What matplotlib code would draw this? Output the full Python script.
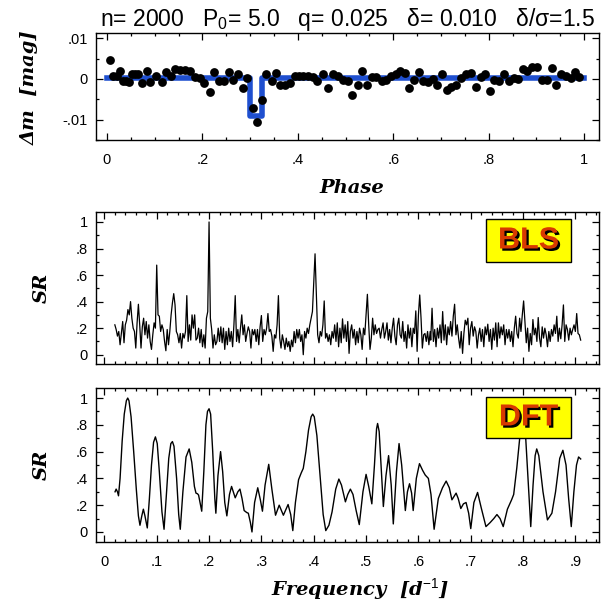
import numpy as np
import matplotlib
matplotlib.use("Agg")
import matplotlib.pyplot as plt
import matplotlib.patheffects as pe
from matplotlib.ticker import MultipleLocator, FuncFormatter
from matplotlib.patches import Rectangle

# ---- phased light curve (top panel) ----
phase = [0.006, 0.012, 0.02, 0.027, 0.033, 0.04, 0.046, 0.053, 0.059, 0.066,
         0.074, 0.083, 0.091, 0.103, 0.115, 0.124, 0.134, 0.143, 0.154, 0.164,
         0.174, 0.184, 0.194, 0.204, 0.215, 0.224, 0.234, 0.245, 0.255, 0.264,
         0.274, 0.284, 0.294, 0.306, 0.315, 0.324, 0.334, 0.345, 0.354, 0.363,
         0.372, 0.383, 0.393, 0.402, 0.411, 0.421, 0.432, 0.441, 0.453, 0.464,
         0.474, 0.484, 0.495, 0.504, 0.514, 0.525, 0.534, 0.544, 0.555, 0.564,
         0.576, 0.585, 0.595, 0.605, 0.615, 0.624, 0.632, 0.644, 0.654, 0.663,
         0.672, 0.683, 0.692, 0.703, 0.712, 0.721, 0.731, 0.741, 0.752, 0.762,
         0.773, 0.783, 0.793, 0.803, 0.812, 0.822, 0.832, 0.842, 0.853, 0.862,
         0.872, 0.881, 0.891, 0.901, 0.911, 0.922, 0.932, 0.941, 0.951, 0.961,
         0.972, 0.981, 0.990]
dmag = [0.0047, 0.0007, 0.0008, 0.0020, -0.0004, -0.0006, -0.0008, 0.0013, 0.0013, 0.0013,
        -0.0010, 0.0019, -0.0007, 0.0007, -0.0008, 0.0016, 0.0008, 0.0025, 0.0023, 0.0023,
        0.0020, 0.0004, 0.0002, -0.0011, -0.0033, 0.0016, -0.0004, -0.0004, 0.0018, -0.0002,
        0.0013, -0.0022, 0.0002, -0.0071, -0.0106, -0.0051, 0.0013, -0.0004, 0.0015, -0.0014,
        -0.0014, -0.0010, 0.0007, 0.0007, 0.0008, 0.0008, 0.0005, -0.0004, 0.0013, -0.0021,
        0.0011, 0.0008, -0.0002, -0.0004, -0.0039, -0.0014, 0.0019, -0.0016, 0.0004, 0.0004,
        -0.0006, -0.0002, 0.0008, 0.0013, 0.0019, 0.0015, -0.0022, -0.0002, 0.0017, -0.0006,
        -0.0008, 0.0000, -0.0014, 0.0011, -0.0026, -0.0020, -0.0014, 0.0002, 0.0011, 0.0015,
        -0.0020, 0.0004, 0.0013, -0.0029, -0.0002, -0.0004, 0.0013, -0.0006, 0.0002, 0.0000,
        0.0025, 0.0019, 0.0030, 0.0030, -0.0002, -0.0002, 0.0027, -0.0016, 0.0013, 0.0008,
        0.0002, 0.0016, 0.0005]
# box-shaped transit model
model_phase = [0.0, 0.2996, 0.2996, 0.3247, 0.3247, 1.0]
model_dmag = [0.0002, 0.0002, -0.009, -0.009, 0.0002, 0.0002]

# ---- BLS spectrum, three stretches ----
bls_a = [0.225, 0.19, 0.14, 0.175, 0.075, 0.16, 0.25, 0.09, 0.225, 0.26,
         0.34, 0.30, 0.40, 0.275, 0.20, 0.175, 0.05, 0.24, 0.38, 0.225,
         0.05, 0.21, 0.275, 0.15, 0.25, 0.125, 0.225, 0.10, 0.04, 0.15,
         0.24, 0.20, 0.675, 0.30, 0.29, 0.175, 0.225, 0.19, 0.10, 0.03,
         0.19, 0.075, 0.175, 0.30, 0.39, 0.46, 0.375, 0.175, 0.15, 0.09,
         0.16, 0.05, 0.16, 0.125, 0.175, 0.445, 0.10, 0.225, 0.11, 0.30,
         0.20, 0.30, 0.11, 0.125, 0.20, 0.09, 0.19, 0.06, 0.15, 0.05,
         0.275, 0.325, 1.0, 0.275, 0.19, 0.05, 0.15, 0.075, 0.10, 0.20,
         0.10, 0.21, 0.09, 0.20, 0.04, 0.175, 0.075, 0.20, 0.10, 0.175,
         0.06, 0.225, 0.445, 0.10, 0.19, 0.09, 0.20, 0.30, 0.15, 0.225,
         0.10, 0.16, 0.21, 0.175, 0.05, 0.19, 0.15, 0.19, 0.10, 0.19,
         0.075, 0.21, 0.295, 0.10, 0.19, 0.15, 0.20, 0.31, 0.175]
bls_b = [0.19, 0.14, 0.025, 0.15, 0.125, 0.225, 0.445, 0.125, 0.05, 0.15,
         0.10, 0.04, 0.125, 0.06, 0.10, 0.025, 0.11, 0.06, 0.175, 0.09,
         0.19, 0.125, 0.19, 0.10, 0.15, 0.0, 0.175, 0.125, 0.20, 0.16,
         0.225, 0.275, 0.325, 0.55, 0.76, 0.45, 0.15, 0.09, 0.175, 0.14,
         0.225, 0.405, 0.125, 0.16, 0.10, 0.15, 0.075, 0.175, 0.125, 0.225,
         0.10, 0.24, 0.06, 0.20, 0.09, 0.27, 0.125, 0.225, 0.10, 0.25,
         0.01, 0.175, 0.225, 0.125, 0.19, 0.075, 0.175, 0.09, 0.20, 0.15,
         0.04, 0.20, 0.15, 0.30, 0.455, 0.225, 0.04, 0.125, 0.275, 0.15,
         0.225, 0.16, 0.19, 0.20, 0.125, 0.19, 0.24, 0.125, 0.175, 0.24,
         0.11, 0.19, 0.09, 0.20, 0.275, 0.14, 0.075, 0.225, 0.275, 0.15,
         0.125, 0.25, 0.10, 0.175, 0.05, 0.225, 0.125, 0.20, 0.06, 0.20,
         0.16, 0.33, 0.025, 0.30, 0.45, 0.275, 0.05, 0.15, 0.16, 0.10,
         0.175, 0.075, 0.175]
bls_c = [0.11, 0.35, 0.10, 0.19, 0.06, 0.20, 0.125, 0.225, 0.09, 0.325,
         0.11, 0.225, 0.075, 0.21, 0.15, 0.25, 0.14, 0.29, 0.38, 0.15,
         0.225, 0.125, 0.05, 0.175, 0.01, 0.16, 0.26, 0.225, 0.275, 0.075,
         0.20, 0.25, 0.14, 0.21, 0.175, 0.05, 0.15, 0.20, 0.10, 0.19,
         0.06, 0.21, 0.15, 0.23, 0.10, 0.19, 0.04, 0.20, 0.11, 0.24,
         0.06, 0.24, 0.125, 0.21, 0.15, 0.225, 0.075, 0.19, 0.125, 0.19,
         0.10, 0.175, 0.06, 0.20, 0.29, 0.16, 0.125, 0.275, 0.175, 0.30,
         0.405, 0.25, 0.09, 0.20, 0.025, 0.16, 0.075, 0.265, 0.15, 0.20,
         0.10, 0.28, 0.125, 0.06, 0.21, 0.125, 0.20, 0.15, 0.06, 0.175,
         0.10, 0.19, 0.14, 0.225, 0.16, 0.29, 0.10, 0.20, 0.12, 0.225,
         0.375, 0.10, 0.225, 0.19, 0.11, 0.20, 0.15, 0.19, 0.225, 0.175,
         0.31, 0.16, 0.15, 0.11]
bls_freq_ranges = [(0.020, 0.315), (0.3175, 0.6225), (0.6235, 0.910)]

# ---- DFT spectrum (frequency, SR) ----
dft_freq = [0.0204, 0.0225, 0.0250, 0.0270, 0.0300, 0.0340, 0.0380, 0.0420, 0.0446, 0.0470,
            0.0510, 0.0560, 0.0610, 0.0650, 0.0680, 0.0715, 0.0745, 0.0775, 0.0820, 0.0860,
            0.0900, 0.0940, 0.0975, 0.1010, 0.1050, 0.1100, 0.1140, 0.1180, 0.1230, 0.1270,
            0.1300, 0.1330, 0.1380, 0.1420, 0.1450, 0.1500, 0.1560, 0.1620, 0.1670, 0.1720,
            0.1750, 0.1780, 0.1800, 0.1860, 0.1900, 0.1940, 0.1970, 0.2000, 0.2030, 0.2070,
            0.2110, 0.2130, 0.2170, 0.2220, 0.2260, 0.2300, 0.2340, 0.2390, 0.2430, 0.2470,
            0.2500, 0.2550, 0.2590, 0.2630, 0.2670, 0.2720, 0.2750, 0.2790, 0.2820, 0.2870,
            0.2930, 0.2980, 0.3020, 0.3070, 0.3140, 0.3200, 0.3270, 0.3340, 0.3420, 0.3510,
            0.3560, 0.3600, 0.3650, 0.3710, 0.3760, 0.3800, 0.3850, 0.3900, 0.3950, 0.3980,
            0.4010, 0.4060, 0.4120, 0.4180, 0.4230, 0.4290, 0.4350, 0.4420, 0.4480, 0.4530,
            0.4605, 0.4650, 0.4700, 0.4750, 0.4810, 0.4870, 0.4940, 0.5000, 0.5050, 0.5110,
            0.5160, 0.5200, 0.5220, 0.5250, 0.5300, 0.5330, 0.5380, 0.5430, 0.5480, 0.5520,
            0.5580, 0.5630, 0.5680, 0.5750, 0.5790, 0.5830, 0.5870, 0.5900, 0.5960, 0.6020,
            0.6080, 0.6130, 0.6190, 0.6240, 0.6300, 0.6380, 0.6460, 0.6530, 0.6590, 0.6640,
            0.6720, 0.6760, 0.6810, 0.6860, 0.6910, 0.6960, 0.7000, 0.7060, 0.7130, 0.7200,
            0.7290, 0.7370, 0.7440, 0.7500, 0.7560, 0.7620, 0.7700, 0.7780, 0.7820, 0.7880,
            0.7940, 0.7990, 0.8050, 0.8100, 0.8146, 0.8190, 0.8230, 0.8260, 0.8300, 0.8380,
            0.8465, 0.8550, 0.8620, 0.8700, 0.8760, 0.8820, 0.8870, 0.8920, 0.8970, 0.9020,
            0.9060, 0.9100]
dft_sr = [0.30, 0.32, 0.30, 0.27, 0.40, 0.68, 0.88, 0.98, 1.00, 0.98,
          0.86, 0.60, 0.32, 0.12, 0.05, 0.12, 0.17, 0.12, 0.03, 0.25,
          0.50, 0.67, 0.71, 0.66, 0.45, 0.15, 0.02, 0.25, 0.55, 0.66,
          0.675, 0.64, 0.40, 0.13, 0.02, 0.30, 0.56, 0.62, 0.52, 0.34,
          0.29, 0.285, 0.275, 0.155, 0.45, 0.80, 0.90, 0.92, 0.88, 0.60,
          0.25, 0.14, 0.42, 0.60, 0.45, 0.22, 0.12, 0.28, 0.34, 0.29,
          0.255, 0.30, 0.32, 0.25, 0.16, 0.145, 0.14, 0.07, 0.00, 0.22,
          0.33, 0.24, 0.155, 0.35, 0.505, 0.32, 0.125, 0.20, 0.125, 0.205,
          0.13, 0.01, 0.22, 0.39, 0.44, 0.475, 0.60, 0.76, 0.86, 0.88,
          0.86, 0.72, 0.42, 0.13, 0.01, 0.05, 0.15, 0.32, 0.395, 0.35,
          0.225, 0.28, 0.32, 0.28, 0.16, 0.055, 0.30, 0.43, 0.34, 0.21,
          0.50, 0.77, 0.81, 0.75, 0.40, 0.19, 0.42, 0.57, 0.35, 0.06,
          0.45, 0.66, 0.50, 0.16, 0.30, 0.36, 0.29, 0.16, 0.40, 0.51,
          0.46, 0.425, 0.40, 0.28, 0.02, 0.25, 0.33, 0.38, 0.33, 0.24,
          0.29, 0.25, 0.175, 0.21, 0.22, 0.14, 0.025, 0.22, 0.295, 0.18,
          0.04, 0.07, 0.10, 0.13, 0.10, 0.04, 0.17, 0.24, 0.28, 0.48,
          0.72, 0.80, 0.70, 0.35, 0.04, 0.35, 0.57, 0.62, 0.57, 0.30,
          0.09, 0.14, 0.30, 0.55, 0.61, 0.50, 0.25, 0.04, 0.30, 0.50,
          0.56, 0.545]

title = "n= 2000   P$_\\mathrm{0}$= 5.0   q= 0.025   \u03b4= 0.010   \u03b4/\u03c3=1.5"

plt.rcParams.update({
    "font.family": ["Liberation Sans", "DejaVu Sans"],
    "mathtext.fontset": "custom",
    "mathtext.rm": "Liberation Sans",
    "mathtext.it": "DejaVu Serif:italic:bold",
    "mathtext.bf": "DejaVu Serif:bold",
})

LABEL = dict(family="DejaVu Serif", style="italic", weight="bold", fontsize=14)


def strip_zero(v, pos):
    s = f"{v:.10g}"
    if s.startswith("0.") and len(s) > 2:
        s = s[1:]
    elif s.startswith("-0."):
        s = "-" + s[2:]
    return s


def style_axes(ax, xmaj, xmin, ymaj, ymin, xlabels=True):
    ax.xaxis.set_major_locator(MultipleLocator(xmaj))
    ax.xaxis.set_minor_locator(MultipleLocator(xmin))
    ax.yaxis.set_major_locator(MultipleLocator(ymaj))
    ax.yaxis.set_minor_locator(MultipleLocator(ymin))
    ax.xaxis.set_major_formatter(FuncFormatter(strip_zero))
    ax.yaxis.set_major_formatter(FuncFormatter(strip_zero))
    ax.tick_params(which="both", direction="in", top=True, right=True,
                   width=0.9, labelsize=10.5)
    ax.tick_params(which="major", length=5)
    ax.tick_params(which="minor", length=2.5)
    ax.tick_params(axis="x", pad=9, labelbottom=xlabels)
    ax.tick_params(axis="y", pad=6)
    for sp in ax.spines.values():
        sp.set_linewidth(1.0)


def badge(fig, text, x0, y0, w, h):
    # yellow label box with a drop-shadowed red title, in figure pixels
    W, H = fig.bbox.width, fig.bbox.height
    rect = Rectangle((x0 / W, 1 - (y0 + h) / H), w / W, h / H,
                     transform=fig.transFigure, facecolor="#ffff00",
                     edgecolor="black", lw=1.0, zorder=5)
    fig.add_artist(rect)
    fig.text((x0 + w / 2) / W, 1 - (y0 + h / 2) / H, text, color="#d83a00",
             ha="center", va="center", fontsize=22, weight="bold",
             family="Liberation Sans", zorder=6,
             path_effects=[pe.withSimplePatchShadow(offset=(1.6, -1.6),
                                                    shadow_rgbFace="black", alpha=1.0)])


fig = plt.figure(figsize=(6.05, 6.04), dpi=100)
W, H = 605, 604
L, R = 96 / W, 599 / W


def axes_px(top, bottom):
    return fig.add_axes([L, 1 - bottom / H, R - L, (bottom - top) / H])


# top: phased light curve
ax1 = axes_px(33, 140)
ax1.plot(model_phase, model_dmag, color="#1f4fcf", lw=4, zorder=2)
ax1.scatter(phase, dmag, s=40, color="black", zorder=3, linewidths=0)
ax1.set_xlim(-0.023, 1.031)
ax1.set_ylim(-0.0150, 0.0113)
style_axes(ax1, 0.2, 0.05, 0.01, 0.005)
ax1.set_title(title, fontsize=16.5, pad=4)

# middle: BLS
ax2 = axes_px(212, 364)
bls_f = np.concatenate([np.linspace(f0, f1, len(v))
                        for (f0, f1), v in zip(bls_freq_ranges, [bls_a, bls_b, bls_c])])
bls_v = np.concatenate([bls_a, bls_b, bls_c])
ax2.plot(bls_f, bls_v, color="black", lw=0.9)
ax2.set_xlim(-0.016, 0.945)
ax2.set_ylim(-0.07, 1.075)
style_axes(ax2, 0.1, 0.02, 0.2, 0.1, xlabels=False)

# bottom: DFT
ax3 = axes_px(388, 542)
ax3.plot(dft_freq, dft_sr, color="black", lw=1.0)
ax3.set_xlim(-0.016, 0.945)
ax3.set_ylim(-0.075, 1.075)
style_axes(ax3, 0.1, 0.02, 0.2, 0.1)

badge(fig, "BLS", 486, 219, 85, 43)
badge(fig, "DFT", 486, 397, 85, 41)

# axis labels
fig.text(0.05, 1 - 88 / H, "\u0394m  [mag]", rotation=90, ha="center", va="center", **LABEL)
fig.text(0.069, 1 - 288 / H, "SR", rotation=90, ha="center", va="center", **LABEL)
fig.text(0.069, 1 - 465 / H, "SR", rotation=90, ha="center", va="center", **LABEL)
fig.text(352 / W, 1 - 188 / H, "Phase", ha="center", va="center", **LABEL)
fig.text(360 / W, 1 - 589 / H, "Frequency  [d$^{\\mathit{-1}}$]", ha="center", va="center", **LABEL)

fig.savefig("out.png", dpi=100)
